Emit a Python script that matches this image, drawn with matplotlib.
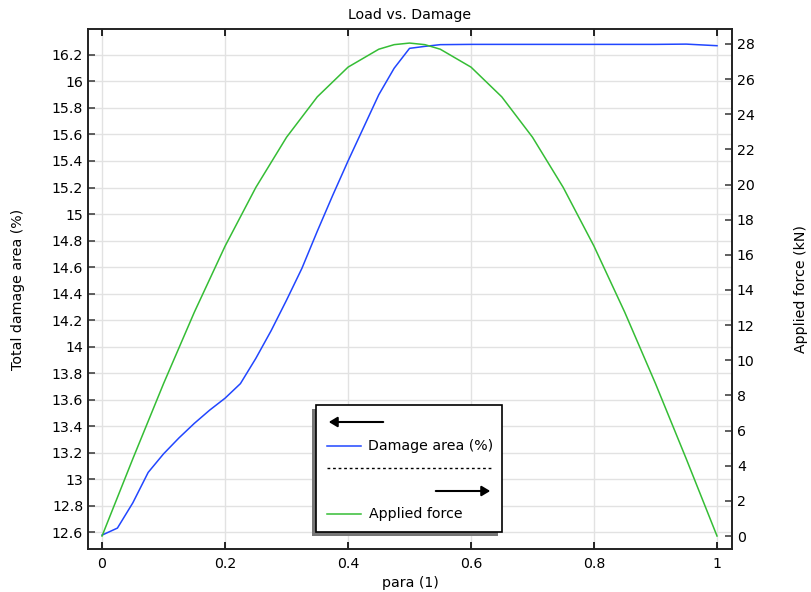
import numpy as np
import matplotlib
matplotlib.use("Agg")
import matplotlib.pyplot as plt
from matplotlib.patches import Rectangle, FancyArrowPatch
from matplotlib.lines import Line2D

# damage curve (left axis)
para_dmg = [0, 0.025, 0.05, 0.075, 0.1, 0.125, 0.15, 0.175, 0.2, 0.225,
            0.25, 0.275, 0.3, 0.325, 0.35, 0.375, 0.4, 0.425, 0.45, 0.475,
            0.5, 0.525, 0.55, 0.6, 0.65, 0.7, 0.75, 0.8, 0.85, 0.9, 0.95, 1.0]
damage = [12.577, 12.63, 12.82, 13.05, 13.19, 13.31, 13.42, 13.52, 13.61, 13.72,
          13.91, 14.12, 14.35, 14.59, 14.87, 15.14, 15.40, 15.65, 15.90, 16.10,
          16.25, 16.265, 16.278, 16.28, 16.28, 16.28, 16.28, 16.28, 16.28, 16.28, 16.282, 16.27]

# applied force (right axis)
para_force = [0, 0.05, 0.1, 0.15, 0.2, 0.25, 0.3, 0.35, 0.4, 0.45, 0.475, 0.5,
              0.525, 0.55, 0.6, 0.65, 0.7, 0.75, 0.8, 0.85, 0.9, 0.95, 1.0]
force = [0, 4.39, 8.67, 12.73, 16.49, 19.83, 22.69, 24.99, 26.68, 27.70, 27.96, 28.05,
         27.96, 27.70, 26.68, 24.99, 22.69, 19.83, 16.49, 12.73, 8.67, 4.39, 0]

left_ticks = np.round(np.arange(12.6, 16.21, 0.2), 1)
right_ticks = np.arange(0, 29, 2)
x_ticks = [0, 0.2, 0.4, 0.6, 0.8, 1]

BLUE = "#2146ff"
GREEN = "#35bd35"
FS = 10.2

plt.rcParams['font.family'] = ['DejaVu Sans']

fig = plt.figure(figsize=(8.12, 5.92), dpi=100)
ax = fig.add_axes([0.1084, 0.0726, 0.7931, 0.8784])
ax2 = ax.twinx()

ax.plot(para_dmg, damage, color=BLUE, lw=1.1)
ax2.plot(para_force, force, color=GREEN, lw=1.1)

ax.set_xlim(-0.0228, 1.0244)
ax.set_ylim(12.472, 16.396)
ax2.set_ylim(-0.74, 28.85)

ax.set_xticks(x_ticks)
ax.set_xticklabels(["0", "0.2", "0.4", "0.6", "0.8", "1"])
ax.set_yticks(left_ticks)
ax.set_yticklabels(["%g" % v for v in left_ticks])
ax2.set_yticks(right_ticks)

ax.grid(True, color="#e2e2e2", lw=1.0)
ax.set_axisbelow(True)

ax.tick_params(axis='x', direction='in', top=True, length=5, width=1.2, labelsize=FS, pad=6)
ax.tick_params(axis='y', direction='in', length=5, width=1.2, labelsize=FS, color="#444444")
ax2.tick_params(axis='y', direction='in', length=5, width=1.2, labelsize=FS, color="#444444")
for a in (ax, ax2):
    for s in a.spines.values():
        s.set_linewidth(1.2)
        s.set_color("#222222")

ax.set_title("Load vs. Damage", fontsize=FS, pad=7)
ax.set_xlabel("para (1)", fontsize=FS, labelpad=3)
ax.set_ylabel("Total damage area (%)", fontsize=FS, labelpad=19)
ax2.set_ylabel("Applied force (kN)", fontsize=FS, labelpad=28)

# legend box drawn by hand (fig pixel coordinates)
W, H = 812.0, 592.0
def fx(px):
    return px / W
def fy(py):
    return 1 - py / H

shadow = Rectangle((fx(312), fy(536)), fx(502) - fx(316), fy(405) - fy(532),
                   transform=fig.transFigure, facecolor="#777777", edgecolor="none", zorder=10)
box = Rectangle((fx(316), fy(532)), fx(502) - fx(316), fy(405) - fy(532),
                transform=fig.transFigure, facecolor="white", edgecolor="black", lw=1.2, zorder=11)
fig.patches.extend([shadow, box])

arr1 = FancyArrowPatch((fx(386), fy(422)), (fx(326), fy(422)), transform=fig.transFigure,
                       arrowstyle="-|>,head_length=5,head_width=3", color="black", lw=1.5, zorder=12)
arr2 = FancyArrowPatch((fx(433), fy(491)), (fx(493), fy(491)), transform=fig.transFigure,
                       arrowstyle="-|>,head_length=5,head_width=3", color="black", lw=1.5, zorder=12)
fig.patches.extend([arr1, arr2])

fig.lines.append(Line2D([fx(327), fx(361)], [fy(446), fy(446)], transform=fig.transFigure,
                        color=BLUE, lw=1.1, zorder=12))
fig.lines.append(Line2D([fx(327), fx(361)], [fy(514), fy(514)], transform=fig.transFigure,
                        color=GREEN, lw=1.1, zorder=12))
fig.lines.append(Line2D([fx(327), fx(492)], [fy(468), fy(468)], transform=fig.transFigure,
                        color="black", lw=1.0, ls=(0, (2, 2)), zorder=12))
fig.text(fx(368), fy(446), "Damage area (%)", fontsize=FS, va='center', ha='left', zorder=13)
fig.text(fx(369), fy(514), "Applied force", fontsize=FS, va='center', ha='left', zorder=13)

fig.savefig("out.png", dpi=100)
